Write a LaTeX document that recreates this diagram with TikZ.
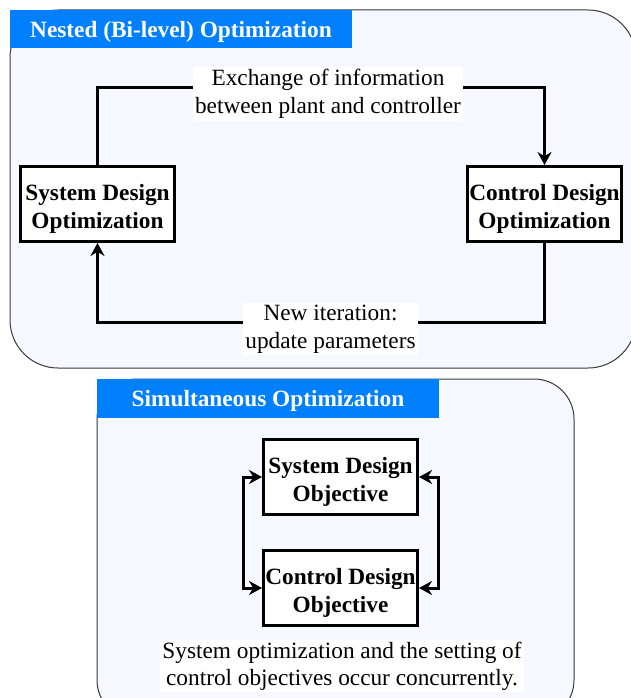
\documentclass[tikz,border=0pt]{standalone}
\usepackage{fontspec}
\setmainfont{Liberation Serif}
\usetikzlibrary{arrows.meta}
\definecolor{panelfill}{HTML}{F5F8FF}
\definecolor{panelline}{HTML}{3A3A3A}
\definecolor{titleblue}{HTML}{007FFF}
\newcommand{\toplift}{\rule{0pt}{26pt}}
\tikzset{
  panel/.style={draw=panelline, line width=1pt, fill=panelfill},
  titlebar/.style={fill=titleblue, draw=none},
  titletext/.style={text=white, font=\fontsize{23.3}{27}\selectfont\bfseries, inner sep=0pt},
  stepbox/.style={draw=black, line width=3pt, fill=white, minimum width=154pt, minimum height=75pt,
    align=center, inner sep=1pt, font=\fontsize{23.3}{28}\selectfont\bfseries},
  lbl/.style={fill=white, align=center, inner sep=2pt, font=\fontsize{23.3}{28}\selectfont},
  conn/.style={draw=black, line width=3pt},
  tip/.style={-{Stealth[length=13pt,width=14pt]}},
  twotip/.style={{Stealth[length=13pt,width=14pt]}-{Stealth[length=13pt,width=14pt]}},
}
\begin{document}
\begin{tikzpicture}[x=1pt, y={(0pt,-1pt)}]
\useasboundingbox (0,0) rectangle (631,698);
\begin{scope}
\clip (0,0) rectangle (631,698);

% ---------- Nested (bi-level) panel ----------
\draw[panel, rounded corners=48pt] (10,10) rectangle (636,368);
\fill[titlebar] (10,10) rectangle (352,48);
\node[titletext] (nt) at (181,31.5) {Nested (Bi-level) Optimization};

\node[stepbox] (sd) at (97.5,204) {\toplift System Design\\Optimization};
\node[stepbox] (cd) at (544.5,204) {\toplift Control Design\\Optimization};

\coordinate (topy) at (320,88);
\coordinate (boty) at (320,322);
\draw[conn, tip] (sd.north) |- (topy) -| (cd.north);
\draw[conn, tip] (cd.south) |- (boty) -| (sd.south);

\node[lbl] (exch) at (328,94) {Exchange of information\\between plant and controller};
\node[lbl] (iter) at (330.5,329) {New iteration:\\update parameters};

% ---------- Simultaneous panel ----------
\draw[panel, rounded corners=40pt] (97,379) rectangle (574,720);
\fill[titlebar] (97,379) rectangle (439,418);
\node[titletext] (st) at (268,401) {Simultaneous Optimization};

\node[stepbox] (so) at (340.5,477) {\toplift System Design\\Objective};
\node[stepbox] (co) at (340.5,588) {\toplift Control Design\\Objective};

\coordinate (lx) at (243,532);
\coordinate (rx) at (438,532);
\draw[conn, twotip] (so.west) -- (so.west -| lx) -- (co.west -| lx) -- (co.west);
\draw[conn, twotip] (so.east) -- (so.east -| rx) -- (co.east -| rx) -- (co.east);

\node[lbl, font=\fontsize{23.3}{27}\selectfont] (cap) at (342,666)
  {System optimization and the setting of\\control objectives occur concurrently.};
\end{scope}
\end{tikzpicture}
\end{document}
